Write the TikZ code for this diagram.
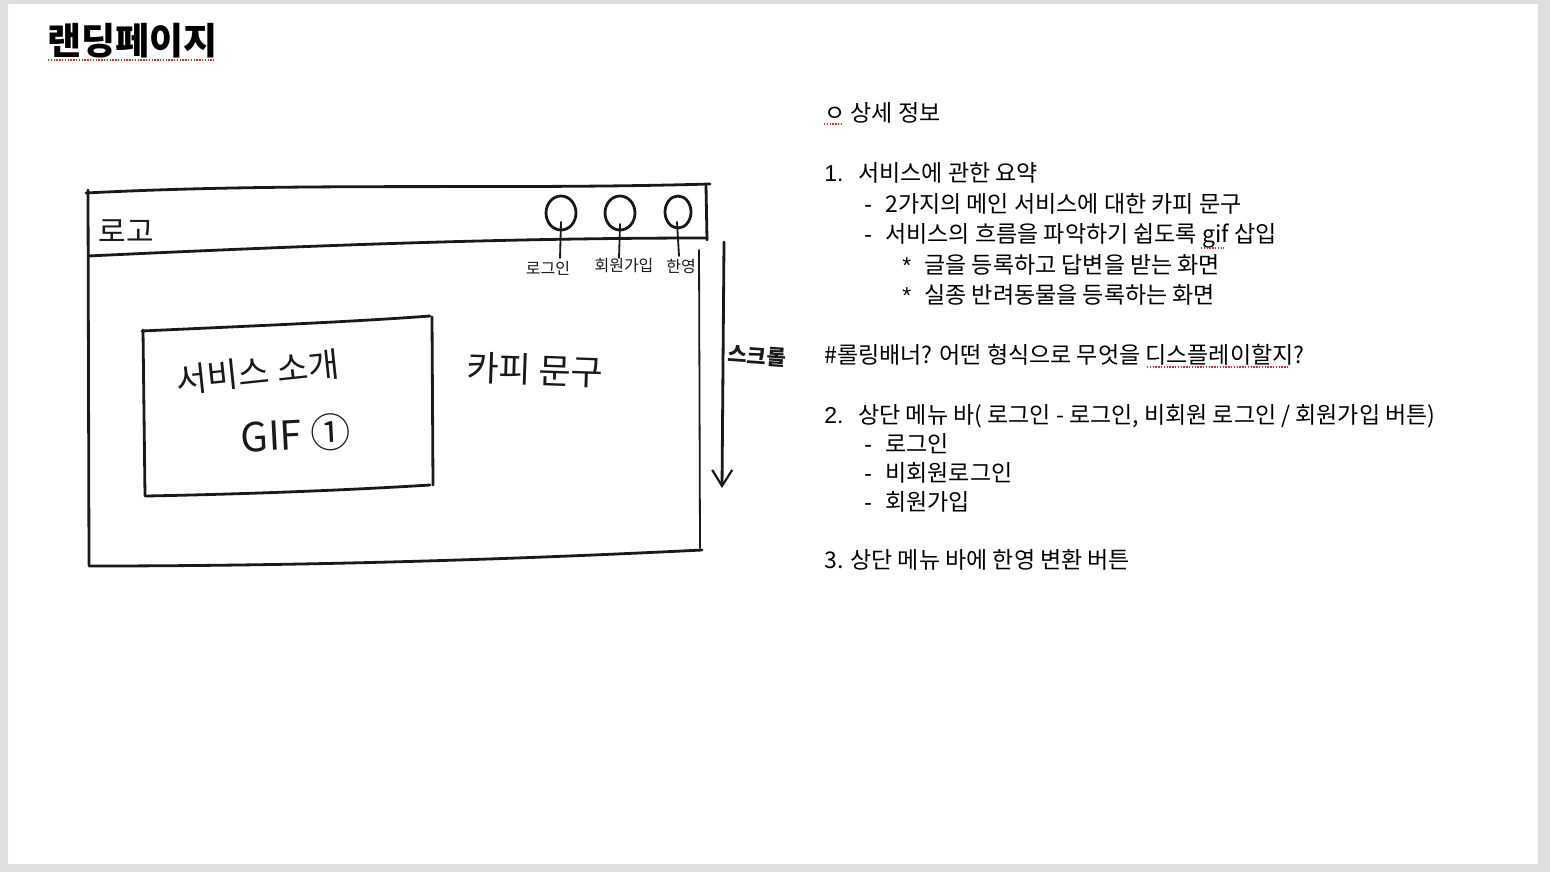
\documentclass[tikz,border=0pt]{standalone}
\usepackage{fontspec}
\setmainfont{Noto Sans CJK KR}
\newfontfamily\latfont{Liberation Sans}
\usetikzlibrary{arrows.meta}
\definecolor{slidebg}{RGB}{224,222,224}
\definecolor{ink}{RGB}{25,25,25}
\definecolor{spell}{RGB}{230,40,40}
\tikzset{
  sketch/.style={line width=1.4pt, draw=ink, line cap=round, line join=round},
  thin sketch/.style={line width=0.9pt, draw=ink, line cap=round},
  body/.style={anchor=base west, inner sep=0pt, font=\fontsize{11.5}{14}\selectfont, text=black},
  hand/.style={inner sep=0pt, text=ink},
  spellmark/.style={draw=spell, line width=0.7pt, dash pattern=on 0.7pt off 0.7pt},
}
\begin{document}
\begin{tikzpicture}[x=0.5pt,y=-0.5pt]
\useasboundingbox (0,0) rectangle (1550,872);
\fill[slidebg] (0,0) rectangle (1550,872);
\fill[white] (8,4) rectangle (1538,864);

% title
\node[anchor=base west, inner sep=0pt, font=\fontsize{18.5}{22}\selectfont\bfseries] (title) at (47,55) {랜딩페이지};
\draw[spellmark] (48,60) -- (214,60);

% ---------------- sketch ----------------
% outer frame
\draw[sketch] (86,193) .. controls (300,182) and (500,190) .. (710,184);
\draw[sketch] (88,190) -- (89,565);
\draw[sketch] (706,186) -- (707,240);
\draw[sketch] (88,256) .. controls (300,246) and (500,238) .. (707,238);
\draw[thin sketch] (699,250) -- (700,548);
\draw[sketch] (89,566) .. controls (300,566) and (500,560) .. (702,550);
% scroll arrow
\draw[sketch, -{Straight Barb[length=8pt,width=10pt,line width=1.1pt]}] (724,242) -- (722,488);
\node[hand, font=\fontsize{10.5}{10.5}\selectfont\bfseries, rotate=-4] (scroll) at (757,356) {스크롤};

% header contents
\node[hand, font=\fontsize{15}{15}\selectfont] (logo) at (126,231) {로고};
\draw[sketch] (561,213) ellipse [x radius=15, y radius=17];
\draw[thin sketch] (561,222) -- (560,258);
\draw[sketch] (620,213) ellipse [x radius=15, y radius=17];
\draw[thin sketch] (620,224) -- (619,258);
\draw[sketch] (678,212) ellipse [x radius=13, y radius=16];
\draw[thin sketch] (677,222) -- (679,256);
\node[hand, font=\fontsize{8}{8}\selectfont] (lblA) at (548,268) {로그인};
\node[hand, font=\fontsize{8}{8}\selectfont] (lblB) at (624,266) {회원가입};
\node[hand, font=\fontsize{8}{8}\selectfont] (lblC) at (681,266) {한영};

% inner box
\draw[sketch] (142,331) .. controls (250,326) and (350,322) .. (430,316);
\draw[sketch] (143,330) -- (145,496);
\draw[sketch] (432,317) -- (433,485);
\draw[sketch] (146,496) .. controls (250,494) and (350,490) .. (430,485);
\node[hand, font=\fontsize{17}{17}\selectfont, rotate=6] (svc) at (258,372) {서비스 소개};
\node[hand, font=\fontsize{20}{20}\selectfont, rotate=3] (gif) at (296,434) {GIF ①};
\node[hand, font=\fontsize{17.5}{17.5}\selectfont, rotate=-2] (copy) at (535,370) {카피 문구};

% ---------------- text ----------------
\node[body] (t0) at (824,121) {ㅇ 상세 정보};
\draw[spellmark] (824,124) -- (843,124);

\node[body] (n1) at (824,181) {\latfont 1.};
\node[body] (t1) at (858,181) {서비스에 관한 요약};
\node[body] (d1) at (864,212) {\latfont -};
\node[body] (t2) at (885,212) {2가지의 메인 서비스에 대한 카피 문구};
\node[body] (d2) at (864,242) {\latfont -};
\node[body] (t3) at (885,242) {서비스의 흐름을 파악하기 쉽도록 gif 삽입};
\draw[spellmark] (1201,248) -- (1224,248);
\node[body] (s1) at (902,273) {\latfont *};
\node[body] (t4) at (924,273) {글을 등록하고 답변을 받는 화면};
\node[body] (s2) at (902,303) {\latfont *};
\node[body] (t5) at (924,303) {실종 반려동물을 등록하는 화면};

\node[body] (t6) at (824,363) {\#롤링배너? 어떤 형식으로 무엇을 디스플레이할지?};
\draw[spellmark] (1147,367) -- (1288,367);

\node[body] (n2) at (824,423) {\latfont 2.};
\node[body] (t7) at (858,423) {상단 메뉴 바( 로그인 - 로그인, 비회원 로그인 / 회원가입 버튼)};
\node[body] (d3) at (864,452) {\latfont -};
\node[body] (t8) at (885,452) {로그인};
\node[body] (d4) at (864,481) {\latfont -};
\node[body] (t9) at (885,481) {비회원로그인};
\node[body] (d5) at (864,510) {\latfont -};
\node[body] (t10) at (885,510) {회원가입};

\node[body] (t11) at (824,568) {3. 상단 메뉴 바에 한영 변환 버튼};
\end{tikzpicture}
\end{document}
